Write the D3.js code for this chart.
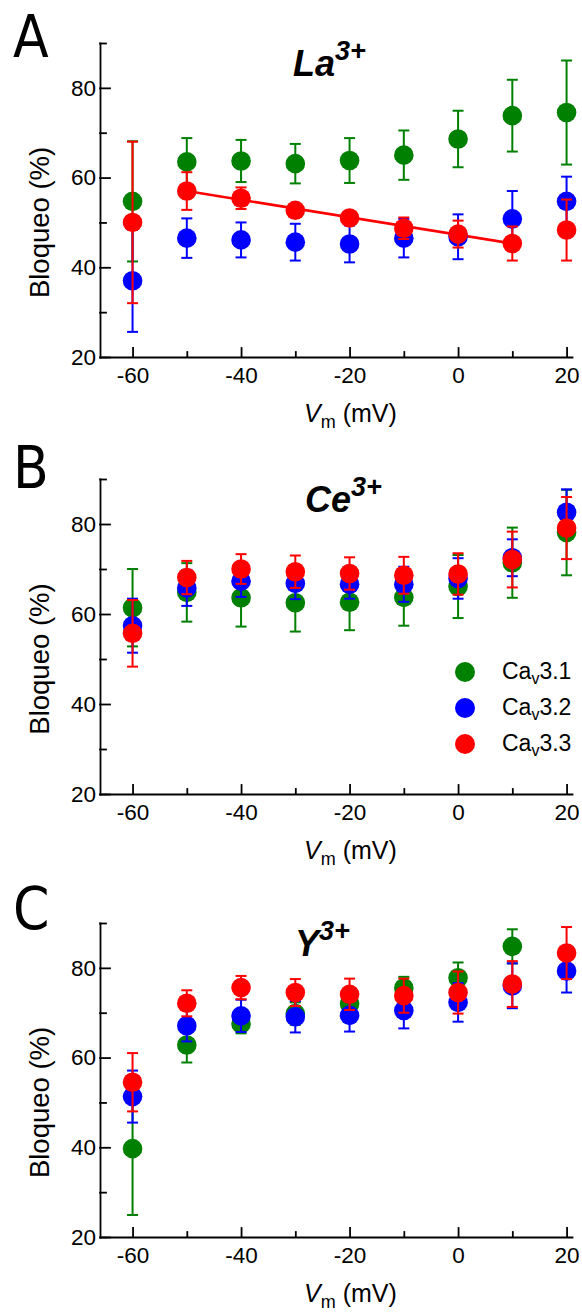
<!DOCTYPE html>
<html>
<head>
<meta charset="utf-8">
<script src="https://cdn.jsdelivr.net/npm/d3@7"></script>
<style>
  body { margin: 0; background: #fff; }
  text { font-family: Arial, "Liberation Sans", sans-serif; }
</style>
</head>
<body>
<div id="chart"></div>
<script>
// voltages (mV)
var voltages = [-60, -50, -40, -30, -20, -10, 0, 10, 20];

var seriesNames = ['3.1', '3.2', '3.3'];
var seriesColors = ['#008000', '#0000ff', '#ff0000'];

// La3+ block (%), mean and error
var la31 = [54.7, 63.5, 63.7, 63.1, 63.8, 65.0, 68.6, 73.8, 74.5];
var la31Err = [13.4, 5.3, 4.7, 4.4, 5.0, 5.5, 6.3, 8.0, 11.6];
var la32 = [37.0, 46.5, 46.1, 45.6, 45.2, 46.5, 46.8, 50.8, 54.7];
var la32Err = [11.4, 4.4, 3.9, 4.1, 4.1, 4.3, 5.0, 6.2, 5.5];
var la33 = [50.0, 57.0, 55.4, 52.7, 51.0, 48.7, 47.4, 45.3, 48.3];
var la33Err = [18.0, 4.2, 2.4, 1.0, 1.0, 2.4, 3.0, 3.8, 6.8];
// linear fit for Cav3.3
var laFitX = [-50, 10];
var laFitY = [57.0, 45.3];

// Ce3+
var ce31 = [61.4, 64.8, 63.6, 62.5, 62.6, 63.7, 66.1, 71.4, 78.1];
var ce31Err = [8.6, 6.5, 6.4, 6.4, 6.2, 6.3, 7.0, 7.8, 9.5];
var ce32 = [57.4, 65.8, 67.3, 66.8, 66.6, 66.6, 67.9, 72.5, 82.6];
var ce32Err = [6.0, 4.0, 3.5, 3.5, 3.2, 3.9, 4.5, 4.1, 5.1];
var ce33 = [55.7, 68.1, 70.0, 69.4, 69.0, 68.6, 68.9, 72.1, 79.1];
var ce33Err = [7.4, 3.7, 3.3, 3.6, 3.6, 4.1, 4.6, 6.2, 6.9];

// Y3+
var y31 = [39.7, 62.8, 67.5, 69.8, 72.0, 75.5, 77.8, 84.8, null];
var y31Err = [14.8, 3.9, 2.1, 2.5, 2.5, 2.5, 3.4, 3.8, null];
var y32 = [51.3, 67.1, 69.3, 69.1, 69.4, 70.5, 72.3, 76.0, 79.3];
var y32Err = [5.8, 3.5, 3.6, 3.5, 3.6, 4.0, 4.3, 5.0, 4.8];
var y33 = [54.5, 72.1, 75.6, 74.5, 74.1, 73.8, 74.5, 76.4, 83.3];
var y33Err = [6.5, 2.9, 2.6, 3.0, 3.5, 3.8, 4.7, 5.1, 5.8];

var yMajor = [20, 40, 60, 80];
var yMinor = [30, 50, 70, 90];
var xMajor = [-60, -40, -20, 0, 20];
var xMinor = [-50, -30, -10, 10];

var svgWidth = 582;
var svgHeight = 1312;

var svg = d3.select('#chart')
  .append('svg')
  .attr('width', svgWidth)
  .attr('height', svgHeight);

var panels = [
  { letter: 'A', ion: 'La', means: [la31, la32, la33], errs: [la31Err, la32Err, la33Err], top: 43, bottom: 357, letterY: 57, titleX: 293, fit: true },
  { letter: 'B', ion: 'Ce', means: [ce31, ce32, ce33], errs: [ce31Err, ce32Err, ce33Err], top: 479, bottom: 794, letterY: 488, titleX: 305, legend: true },
  { letter: 'C', ion: 'Y', means: [y31, y32, y33], errs: [y31Err, y32Err, y33Err], top: 923, bottom: 1237, letterY: 929, titleX: 295 }
];

var x = d3.scaleLinear().domain([-66, 21]).range([100, 572]);

panels.forEach(function(p) {
  var y = d3.scaleLinear().domain([20, 90]).range([p.bottom, p.top]);
  var g = svg.append('g');

  // axes
  g.append('g')
    .attr('transform', 'translate(100,0)')
    .call(d3.axisLeft(y).tickValues(yMajor).tickSize(-10).tickSizeOuter(0)
      .tickPadding(4).tickFormat(function(d) { return String(d); }));
  g.append('g')
    .attr('transform', 'translate(100,0)')
    .call(d3.axisLeft(y).tickValues(yMinor).tickSize(-6).tickFormat(''))
    .select('.domain').remove();

  g.append('g')
    .attr('transform', `translate(0,${p.bottom})`)
    .call(d3.axisBottom(x).tickValues(xMajor).tickSize(-9).tickSizeOuter(0)
      .tickPadding(10).tickFormat(function(d) { return String(d); }));
  g.append('g')
    .attr('transform', `translate(0,${p.bottom})`)
    .call(d3.axisBottom(x).tickValues(xMinor).tickSize(-5).tickFormat(''))
    .select('.domain').remove();

  g.selectAll('.domain, .tick line')
    .attr('stroke', '#000')
    .attr('stroke-width', 1.8)
    .attr('stroke-linecap', 'square');
  g.selectAll('.tick text')
    .attr('fill', '#000')
    .style('font-family', 'Arial, "Liberation Sans", sans-serif')
    .style('font-size', '22.5px');

  // axis titles
  g.append('text')
    .attr('transform', `translate(49,${y(50)}) rotate(-90)`)
    .attr('text-anchor', 'middle')
    .style('font-size', '27.5px')
    .text('Bloqueo (%)');

  var xl = g.append('text')
    .attr('x', 304)
    .attr('y', p.bottom + 65)
    .style('font-size', '25px');
  xl.append('tspan').style('font-style', 'italic').text('V');
  xl.append('tspan').attr('dy', 6).style('font-size', '18px').text('m');
  xl.append('tspan').attr('dy', -6).text('\u00a0(mV)');

  // panel letter
  svg.append('text')
    .attr('x', 13)
    .attr('y', p.letterY)
    .style('font-family', '"Liberation Sans Narrow", "DejaVu Sans Condensed", Arial, sans-serif')
    .style('font-size', '58px')
    .text(p.letter);

  // ion title
  var t = g.append('text')
    .attr('x', p.titleX)
    .attr('y', p.top + 33)
    .style('font-weight', 'bold')
    .style('font-style', 'italic')
    .style('font-size', '36px');
  t.append('tspan').text(p.ion);
  t.append('tspan').attr('dy', -16).style('font-size', '27px').text('3+');

  // fit line
  if (p.fit) {
    g.append('path')
      .datum(laFitX.map(function(v, i) { return [v, laFitY[i]]; }))
      .attr('fill', 'none')
      .attr('stroke', '#ff0000')
      .attr('stroke-width', 2.5)
      .attr('d', d3.line().x(function(d) { return x(d[0]); }).y(function(d) { return y(d[1]); }));
  }

  // points with error bars
  p.means.forEach(function(vals, s) {
    var pts = voltages.map(function(v, i) {
      return { v: v, m: vals[i], e: p.errs[s][i] };
    }).filter(function(d) { return d.m != null; });
    var col = seriesColors[s];
    var sg = g.append('g');

    sg.selectAll('circle')
      .data(pts)
      .enter()
      .append('circle')
      .attr('cx', function(d) { return x(d.v); })
      .attr('cy', function(d) { return y(d.m); })
      .attr('r', 9.8)
      .attr('fill', col);

    var eb = sg.selectAll('g.err')
      .data(pts)
      .enter()
      .append('g')
      .attr('class', 'err')
      .attr('stroke', col)
      .attr('stroke-width', 2);
    eb.append('line')
      .attr('x1', function(d) { return x(d.v); })
      .attr('x2', function(d) { return x(d.v); })
      .attr('y1', function(d) { return y(d.m + d.e); })
      .attr('y2', function(d) { return y(d.m - d.e); });
    [1, -1].forEach(function(sign) {
      eb.append('line')
        .attr('x1', function(d) { return x(d.v) - 5.5; })
        .attr('x2', function(d) { return x(d.v) + 5.5; })
        .attr('y1', function(d) { return y(d.m + sign * d.e); })
        .attr('y2', function(d) { return y(d.m + sign * d.e); });
    });
  });

  // legend
  if (p.legend) {
    var lg = g.append('g').attr('transform', `translate(465,${p.top + 193})`);
    seriesNames.forEach(function(name, i) {
      lg.append('circle')
        .attr('cx', 0)
        .attr('cy', i * 36)
        .attr('r', 10)
        .attr('fill', seriesColors[i]);
      var lt = lg.append('text')
        .attr('x', 37)
        .attr('y', i * 36 + 7)
        .style('font-size', '23px');
      lt.append('tspan').text('Ca');
      lt.append('tspan').attr('dy', 5).style('font-size', '16px').text('v');
      lt.append('tspan').attr('dy', -5).text(name);
    });
  }
});
</script>
</body>
</html>
